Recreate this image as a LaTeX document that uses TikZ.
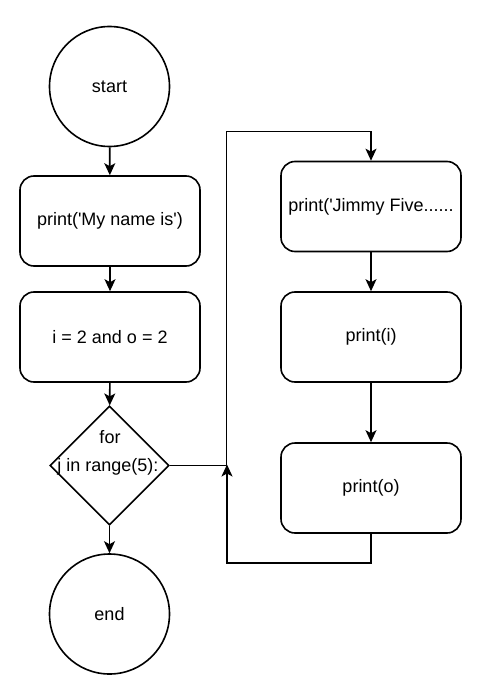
\documentclass[tikz,border=0pt]{standalone}
\usepackage{fontspec}
\setmainfont{Liberation Sans}
\usetikzlibrary{shapes.geometric,arrows.meta}
\begin{document}
\begin{tikzpicture}[x=1pt,y=-1pt,
  every node/.style={font=\fontsize{18}{22}\selectfont, text=black},
  term/.style={draw, line width=1.6pt, circle, minimum size=120pt, inner sep=0pt},
  procbox/.style={draw, line width=1.6pt, rounded corners=14pt, minimum width=180pt, minimum height=90pt, inner sep=0pt},
  decide/.style={draw, line width=1.6pt, diamond, minimum width=119pt, minimum height=119pt, inner sep=0pt, aspect=1},
  arr/.style={line width=1.6pt, -{Stealth[length=12pt,width=11pt,inset=3pt]}},
  ln/.style={line width=1.6pt}
]
\useasboundingbox (0,0) rectangle (479,682);
\node[term] (start) at (109.5,86.5) {start};
\node[procbox] (b1) at (110,221) {print(\textquotesingle My name is\textquotesingle)};
\node[procbox] (b2) at (110,337) {i = 2 and o = 2};
\node[decide] (dia) at (109.5,465.5) {};
\node (t1) at (110,437) {for};
\node (t2) at (108,467) {j in range(5):};
\node[term] (end) at (109.5,614) {end};
\node[procbox] (b3) at (371,206.5) {print(\textquotesingle Jimmy Five......};
\node[procbox] (b4) at (371,337) {print(i)};
\node[procbox] (b5) at (371,488) {print(o)};
\coordinate (j) at (226.5,131.5);
\coordinate (k) at (227,563);
\draw[arr] (start) -- (b1);
\draw[arr] (b1) -- (b2);
\draw[arr] (b2) -- (dia);
\draw[arr] (dia) -- (end);
\draw[arr] (dia.east) -| (j) -| (b3.north);
\draw[arr] (b3) -- (b4);
\draw[arr] (b4) -- (b5);
\draw[arr] (b5.south) |- (k) -- ([yshift=1pt]k |- dia.east);
\end{tikzpicture}
\end{document}
